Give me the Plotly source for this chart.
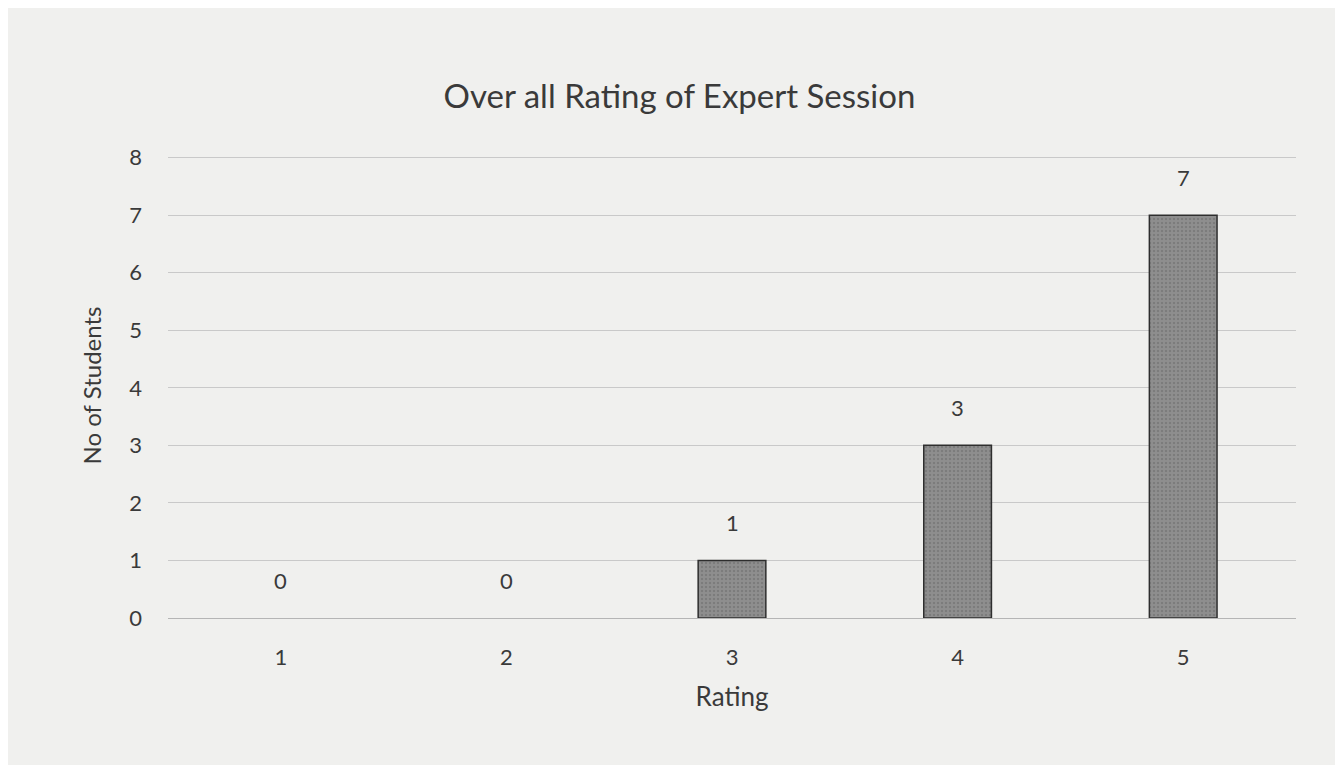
import plotly.graph_objects as go

ratings = ["1", "2", "3", "4", "5"]
students = [0, 0, 1, 3, 7]
y_ticks = [0, 1, 2, 3, 4, 5, 6, 7, 8]

font_family = "Lato, 'Open Sans', sans-serif"
text_color = "#3a3a3a"

fig = go.Figure(
    go.Bar(
        x=ratings,
        y=students,
        width=0.3,
        marker=dict(
            color="#8e8e8e",
            line=dict(color="#2e2e2e", width=[0 if v == 0 else 1.5 for v in students]),
            pattern=dict(shape=".", fgcolor="#6a6a6a", size=4, solidity=0.3),
        ),
        hoverinfo="x+y",
    )
)

for i, v in enumerate(students):
    fig.add_annotation(
        x=i,
        y=v,
        text=str(v),
        showarrow=False,
        yanchor="bottom",
        yshift=22,
        font=dict(size=22, color=text_color, family=font_family),
    )

fig.update_layout(
    width=1343,
    height=765,
    paper_bgcolor="#f0f0ee",
    plot_bgcolor="#f0f0ee",
    margin=dict(l=160, r=55, t=145, b=155),
    title=dict(
        text="Over all Rating of Expert Session",
        x=0.5,
        xanchor="center",
        y=0.885,
        yanchor="middle",
        font=dict(size=33, color=text_color, family=font_family),
    ),
    showlegend=False,
    bargap=0.7,
)

fig.update_xaxes(
    type="category",
    title=dict(text="Rating", font=dict(size=26, color=text_color, family=font_family), standoff=18),
    tickfont=dict(size=22, color=text_color, family=font_family),
    showgrid=False,
    showline=True,
    linecolor="#b5b5b5",
    linewidth=1,
    ticks="",
    ticklabelstandoff=20,
)

fig.update_yaxes(
    title=dict(text="No of Students", font=dict(size=24, color=text_color, family=font_family), standoff=20),
    tickfont=dict(size=22, color=text_color, family=font_family),
    range=[0, 8.08],
    tickvals=y_ticks,
    showgrid=True,
    gridcolor="#c9c9c9",
    gridwidth=1,
    zeroline=False,
    showline=False,
    ticks="",
    ticklabelstandoff=25,
)

fig.write_html("out.html")
